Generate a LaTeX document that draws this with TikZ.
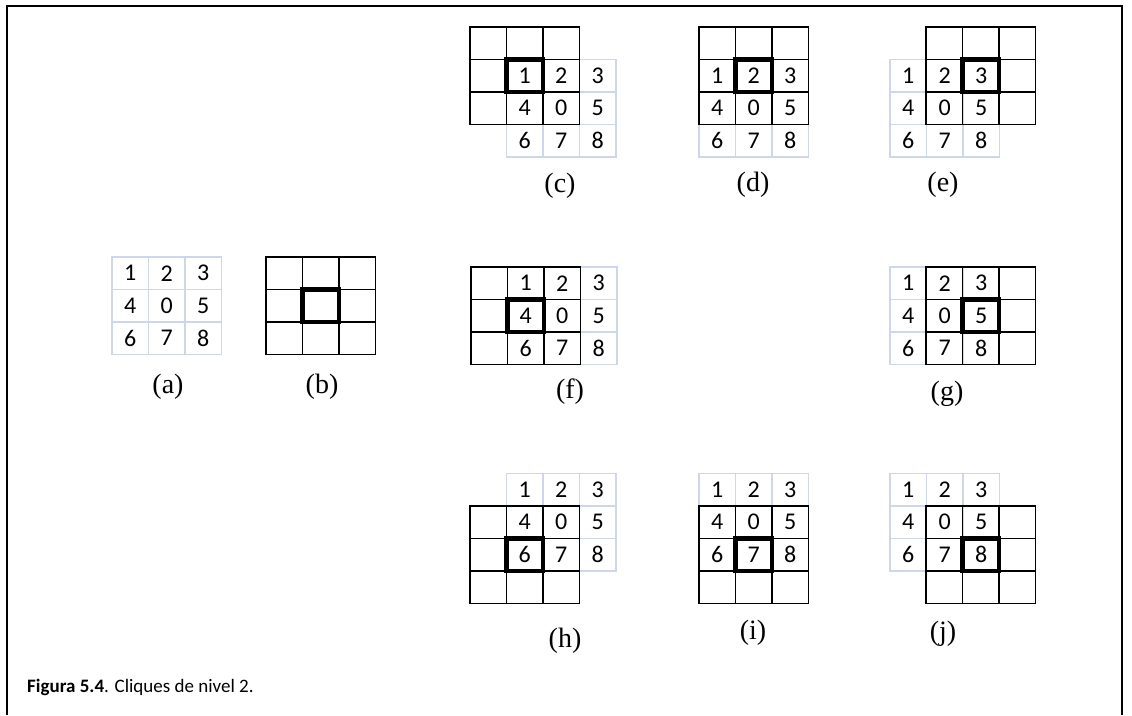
\documentclass[tikz,border=0pt]{standalone}
\usepackage{fontspec}
\newfontfamily\capfont{Carlito}
\newfontfamily\lblfont{Liberation Serif}
\usetikzlibrary{positioning}
\definecolor{lightc}{RGB}{205,214,234}
\tikzset{
  cellbase/.style={minimum width=36.5pt, minimum height=32.5pt, inner sep=0pt, outer sep=0pt, anchor=north west},
  lcell/.style={cellbase, draw=lightc, line width=1.2pt, font=\capfont\fontsize{24}{24}\selectfont, text=black},
  bcell/.style={cellbase, draw=black, line width=1.6pt},
  tcell/.style={cellbase, draw=black, line width=4.5pt},
  lbl/.style={font=\lblfont\fontsize{28}{28}\selectfont, inner sep=0pt},
  frameline/.style={line width=2pt, black}
}
\newcommand\lgrid[3]{%
  \foreach \d [count=\k from 0] in {1,2,3,4,0,5,6,7,8} {%
    \pgfmathtruncatemacro\cc{mod(\k,3)}%
    \pgfmathtruncatemacro\rr{div(\k,3)}%
    \node[lcell] (#1-\d) at (#2+\cc*36.5, #3+\rr*32.5) {\d};
  }}
\newcommand\bgrid[3]{%
  \foreach \cc in {0,1,2} {\foreach \rr in {0,1,2} {%
    \node[bcell] (#1-b\cc\rr) at (#2+\cc*36.5, #3+\rr*32.5) {};
  }}%
  \node[tcell] (#1-t) at (#2+36.5, #3+32.5) {};
}
\begin{document}
\begin{tikzpicture}[x=1pt,y=-1pt]
\useasboundingbox (0,0) rectangle (1132,715);
% frame
\coordinate (f1) at (7,715);
\coordinate (f2) at (7,6);
\coordinate (f3) at (1122,6);
\coordinate (f4) at (1122,715);
\draw[frameline] (f1) -- (f2) -- (f3) -- (f4);
% light grids
\lgrid{a}{112}{257}
\lgrid{c}{506.5}{59.5}
\lgrid{d}{699}{59.5}
\lgrid{e}{890}{59.5}
\lgrid{f}{507.5}{267}
\lgrid{g}{890}{267}
\lgrid{h}{506.5}{473.5}
\lgrid{i}{699}{473.5}
\lgrid{j}{890}{473.5}
% black grids
\bgrid{b}{266}{257}
\bgrid{c}{470}{27}
\bgrid{d}{699}{27}
\bgrid{e}{926}{27}
\bgrid{f}{471}{267}
\bgrid{g}{926}{267}
\bgrid{h}{470}{506}
\bgrid{i}{699}{506}
\bgrid{j}{926}{506}
% labels
\node[lbl] (la) at (168,387) {(a)};
\node[lbl] (lb) at (322,387) {(b)};
\node[lbl] (lc) at (560,186) {(c)};
\node[lbl] (ld) at (753,185) {(d)};
\node[lbl] (le) at (943,185) {(e)};
\node[lbl] (lf) at (570,392) {(f)};
\node[lbl] (lg) at (947,394) {(g)};
\node[lbl] (lh) at (565,641) {(h)};
\node[lbl] (li) at (753,633) {(i)};
\node[lbl] (lj) at (943,634) {(j)};
% caption
\node[anchor=base west, inner sep=0pt, font=\capfont\fontsize{19}{19}\selectfont] (cap) at (27,692) {\textbf{Figura 5.4}. Cliques de nivel 2.};
\end{tikzpicture}
\end{document}
